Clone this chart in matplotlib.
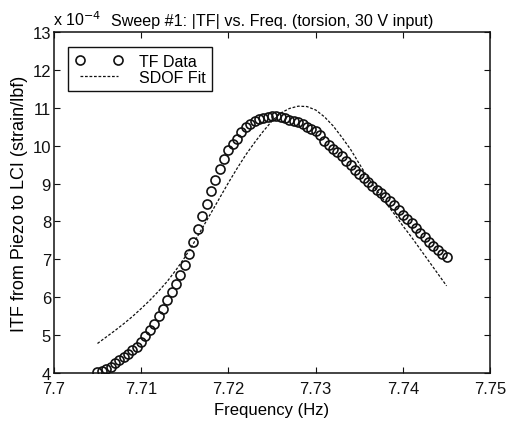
import numpy as np
import matplotlib
matplotlib.use("Agg")
import matplotlib.pyplot as plt
from matplotlib.ticker import FuncFormatter

plt.rcParams["font.family"] = ["Liberation Sans", "DejaVu Sans"]
plt.rcParams["font.size"] = 11.5

# ── Measured TF data (units of 1e-4 strain/lbf) ──
freq_data = np.arange(81) * 0.0005 + 7.705
tf_data = [
    4.02, 4.05, 4.10, 4.17, 4.26, 4.34, 4.42, 4.50, 4.60, 4.70,
    4.83, 4.97, 5.13, 5.30, 5.50, 5.70, 5.92, 6.13, 6.36, 6.58,
    6.85, 7.15, 7.45, 7.80, 8.15, 8.46, 8.80, 9.08, 9.38, 9.65,
    9.88, 10.05, 10.18, 10.35, 10.50, 10.58, 10.65, 10.70, 10.73, 10.76,
    10.78, 10.77, 10.75, 10.72, 10.68, 10.65, 10.61, 10.57, 10.50, 10.44,
    10.38, 10.28, 10.12, 10.02, 9.92, 9.82, 9.72, 9.60, 9.48, 9.36,
    9.25, 9.14, 9.04, 8.94, 8.84, 8.74, 8.64, 8.54, 8.42, 8.30,
    8.18, 8.07, 7.95, 7.83, 7.70, 7.58, 7.46, 7.36, 7.25, 7.14,
    7.05,
]

# ── SDOF fit ──
freq_fit = np.arange(41) * 0.001 + 7.705
tf_fit = [
    4.78, 4.95, 5.12, 5.30, 5.49, 5.70, 5.92, 6.16, 6.42, 6.72,
    7.05, 7.42, 7.82, 8.22, 8.62, 9.02, 9.40, 9.76, 10.08, 10.38,
    10.65, 10.86, 10.98, 11.04, 11.03, 10.94, 10.76, 10.52, 10.22, 9.90,
    9.52, 9.15, 8.82, 8.50, 8.20, 7.88, 7.58, 7.26, 6.94, 6.62,
    6.30,
]

SCALE = 1e-4
x_ticks = [7.70, 7.71, 7.72, 7.73, 7.74, 7.75]
x_labels = ["7.7", "7.71", "7.72", "7.73", "7.74", "7.75"]
y_ticks = np.arange(4, 14) * SCALE

fig = plt.figure(figsize=(5.08, 4.27), dpi=100)
ax = fig.add_axes([0.106, 0.124, 0.859, 0.799])

ax.plot(freq_data, np.array(tf_data) * SCALE, "o", mfc="none", mec="#111",
        mew=1.2, ms=6.5, label="TF Data")
ax.plot(freq_fit, np.array(tf_fit) * SCALE, "--", color="#111", lw=0.9,
        dashes=(2.2, 1.4), label="SDOF Fit")

ax.set_xlim(7.70, 7.75)
ax.set_ylim(4 * SCALE, 13 * SCALE)
ax.set_xticks(x_ticks)
ax.set_xticklabels(x_labels)
ax.set_yticks(y_ticks)
ax.yaxis.set_major_formatter(FuncFormatter(lambda v, p: f"{v / SCALE:g}"))
ax.tick_params(direction="in", top=True, right=True, length=4, width=0.8,
               labelsize=12, colors="#111")
ax.tick_params(axis="x", pad=6)
ax.tick_params(axis="y", pad=2)
for s in ax.spines.values():
    s.set_linewidth(1.1)
    s.set_color("#111")

ax.text(-0.003, 1.01, r"x 10$^{-4}$", transform=ax.transAxes, fontsize=11.5,
        ha="left", va="bottom")
ax.set_title("Sweep #1: |TF| vs. Freq. (torsion, 30 V input)", fontsize=11.6, pad=5)
ax.set_xlabel("Frequency (Hz)", fontsize=12, labelpad=4)
ax.set_ylabel("ITF from Piezo to LCI (strain/lbf)", fontsize=13, labelpad=3)

leg = ax.legend(loc="upper left", numpoints=2, fancybox=False, framealpha=1,
                edgecolor="#111", borderpad=0.4, handlelength=3.0,
                handletextpad=1.0, labelspacing=0.05, fontsize=11.5,
                bbox_to_anchor=(0.015, 0.978))
leg.get_frame().set_linewidth(1.0)

fig.savefig("out.png", dpi=100)
